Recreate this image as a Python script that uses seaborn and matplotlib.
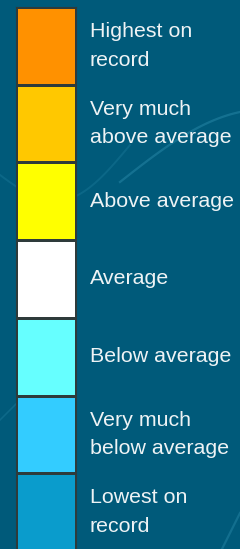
import numpy as np
import pandas as pd
import matplotlib
matplotlib.use("Agg")
import matplotlib.pyplot as plt
from matplotlib.colors import ListedColormap
import seaborn as sns

categories = ["Highest on\nrecord", "Very much\nabove average", "Above average",
              "Average", "Below average", "Very much\nbelow average", "Lowest on\nrecord"]
colors = ["#ff9100", "#ffc800", "#ffff00", "#ffffff", "#66ffff", "#33ccff", "#0a9ccc"]
codes = [0, 1, 2, 3, 4, 5, 6]

bg = "#005a7a"
W, H = 240, 549
fig = plt.figure(figsize=(W / 100, H / 100), dpi=100, facecolor=bg)

# faint decorative arcs in the background
deco = fig.add_axes([0, 0, 1, 1])
deco.set_xlim(0, W); deco.set_ylim(H, 0); deco.axis("off")
deco.patch.set_alpha(0)
t = np.linspace(0, 1, 100)
deco.plot(120 + 120 * t, 182 - 70 * np.sin(t * 1.3) / np.sin(1.3), color="#1a7898", lw=1.6, alpha=0.8)
deco.plot(0 + 130 * t, 175 + 40 * np.sin(t * np.pi) - 30 * t, color="#1a7898", lw=1.4, alpha=0.45)
deco.plot(0 + 30 * t, 420 - 30 * t, color="#1a7898", lw=1.2, alpha=0.5)
deco.plot(222 + 18 * t, 549 - 36 * t, color="#1a7898", lw=1.6, alpha=0.7)

top, bottom = 7, 551
ax = fig.add_axes([16 / W, 1 - bottom / H, 60 / W, (bottom - top) / H])
df = pd.DataFrame({"v": codes}, index=categories)
sns.heatmap(df, ax=ax, cmap=ListedColormap(colors), vmin=-0.5, vmax=6.5,
            cbar=False, linewidths=0.8, linecolor="#2e3b3b",
            xticklabels=False, yticklabels=False)
for s in ax.spines.values():
    s.set_visible(True)
    s.set_color("#2e3b3b")
    s.set_linewidth(0.8)

for i, lab in enumerate(categories):
    ax.text(1.23, i + 0.5, lab, transform=ax.transData, ha="left", va="center",
            color="#eef3f5", fontsize=15.4, family="Liberation Sans",
            linespacing=1.65, clip_on=False)

fig.savefig("out.png", dpi=100, facecolor=bg)
